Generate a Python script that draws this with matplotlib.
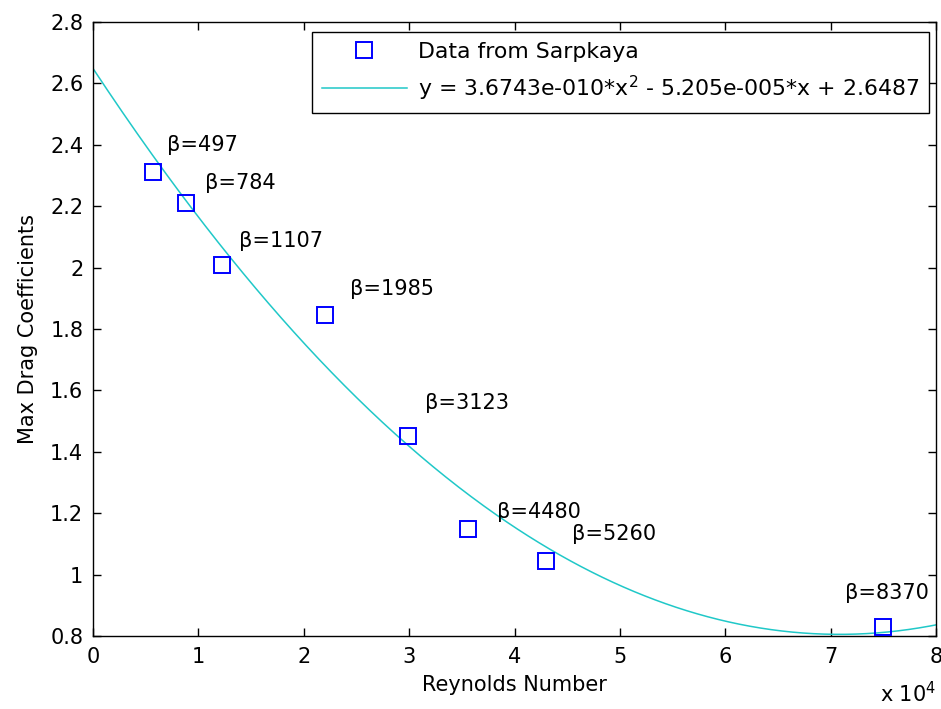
import numpy as np
import matplotlib
matplotlib.use("Agg")
import matplotlib.pyplot as plt

# Sarpkaya data: Reynolds number vs max drag coefficient
reynolds = [5700, 8800, 12200, 22000, 29900, 35600, 43000, 75000]
drag = [2.31, 2.21, 2.01, 1.845, 1.45, 1.15, 1.045, 0.83]
beta = [497, 784, 1107, 1985, 3123, 4480, 5260, 8370]

# where the beta labels sit (data coords, left/middle aligned like matlab text())
label_x = [7000, 10600, 13900, 24400, 31500, 38300, 45500, 71400]
label_y = [2.40, 2.274, 2.087, 1.929, 1.558, 1.203, 1.132, 0.939]

# quadratic fit from the legend
fit_coef = [3.6743e-10, -5.205e-5, 2.6487]

plt.rcParams['font.family'] = ['DejaVu Sans']
plt.rcParams['font.size'] = 15
plt.rcParams['mathtext.fontset'] = 'dejavusans'

fig = plt.figure(figsize=(9.41, 7.09), dpi=100)
ax = fig.add_axes([93 / 941, 73 / 709, 843 / 941, 614 / 709])

xfit = np.linspace(0, 80000, 400)
ax.plot(reynolds, drag, 's', mfc='none', mec='#0000ff', ms=11.5, mew=1.4,
        label='Data from Sarpkaya', zorder=3)
ax.plot(xfit, np.polyval(fit_coef, xfit), color='#20c8c8', lw=1.1,
        label=r'y = 3.6743e-010*x$^{2}$ - 5.205e-005*x + 2.6487', zorder=2)

for b, lx, ly in zip(beta, label_x, label_y):
    ax.text(lx, ly, 'β=%d' % b, ha='left', va='center')

ax.set_xlim(0, 80000)
ax.set_ylim(0.8, 2.8)
ax.set_xticks(np.arange(0, 80001, 10000))
ax.set_xticklabels([str(i) for i in range(9)])
ax.set_yticks(np.arange(0.8, 2.81, 0.2))
ax.set_yticklabels(['0.8', '1', '1.2', '1.4', '1.6', '1.8', '2', '2.2', '2.4', '2.6', '2.8'])
ax.tick_params(direction='in', length=6, width=1, top=True, right=True)
ax.tick_params(axis='x', pad=8)
ax.tick_params(axis='y', pad=7)
for s in ax.spines.values():
    s.set_linewidth(1)

ax.set_xlabel('Reynolds Number', labelpad=6)
ax.set_ylabel('Max Drag Coefficients', labelpad=9)
fig.text(0.995, 0.004, r'x 10$^{4}$', ha='right', va='bottom')

leg = ax.legend(loc='upper right', bbox_to_anchor=(0.992, 0.984), borderaxespad=0,
                fancybox=False, edgecolor='black', framealpha=1, borderpad=0.45,
                handlelength=3.9, handletextpad=0.5, labelspacing=0.55, fontsize=15.8)
leg.get_frame().set_linewidth(1)

fig.savefig('out.png', dpi=100)
